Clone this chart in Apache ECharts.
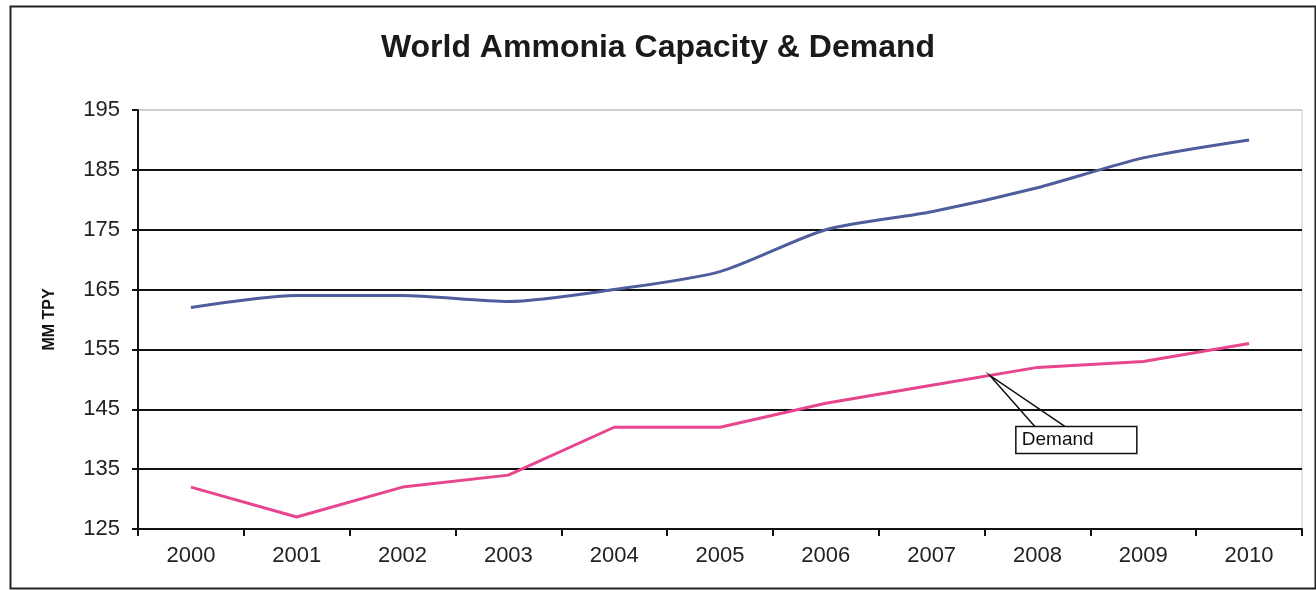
<!DOCTYPE html>
<html>
<head>
<meta charset="utf-8">
<script src="https://cdn.jsdelivr.net/npm/echarts@6/dist/echarts.min.js"></script>
<style>
  html, body { margin: 0; padding: 0; background: #fff; }
  #chart { width: 1316px; height: 590px; }
</style>
</head>
<body>
<div id="chart"></div>
<script>
// values
var years = ['2000', '2001', '2002', '2003', '2004', '2005', '2006', '2007', '2008', '2009', '2010'];
var capacity = [162, 164, 164, 163, 165, 168, 175, 178, 182, 187, 190];
var demand = [132, 127, 132, 134, 142, 142, 146, 149, 152, 153, 156];
var yTicks = [125, 135, 145, 155, 165, 175, 185, 195];

var chartDom = document.getElementById('chart');
var myChart = echarts.init(chartDom, null, { width: 1316, height: 590 });
var option;

var font = 'Liberation Sans, Arial, sans-serif';

option = {
  backgroundColor: '#fff',
  animation: false,
  title: {
    text: 'World Ammonia Capacity & Demand',
    left: 'center',
    top: 27,
    textStyle: {
      fontFamily: font,
      fontSize: 32,
      fontWeight: 'bold',
      color: '#1a1a1a'
    }
  },
  grid: {
    left: 138,
    right: 14,
    top: 110,
    bottom: 61,
    show: true,
    borderColor: '#c8c8c8',
    borderWidth: 1
  },
  xAxis: {
    type: 'category',
    data: years,
    boundaryGap: true,
    axisLine: { lineStyle: { color: '#111', width: 2 } },
    axisTick: { show: true, length: 7, lineStyle: { color: '#111', width: 2 } },
    axisLabel: {
      margin: 16,
      fontFamily: font,
      fontSize: 22,
      color: '#222'
    },
    splitLine: { show: false }
  },
  yAxis: {
    type: 'value',
    min: 125,
    max: 195,
    name: 'MM TPY',
    nameLocation: 'middle',
    nameGap: 80,
    nameTextStyle: {
      fontFamily: font,
      fontSize: 16,
      fontWeight: 'bold',
      color: '#111'
    },
    axisLine: { show: true, lineStyle: { color: '#111', width: 2 } },
    axisTick: { show: true, length: 6, customValues: yTicks, lineStyle: { color: '#111', width: 2 } },
    axisLabel: {
      customValues: yTicks,
      margin: 18,
      fontFamily: font,
      fontSize: 22,
      color: '#222'
    },
    splitLine: {
      show: true,
      lineStyle: {
        color: ['#111', '#111', '#111', '#111', '#111', '#111', '#111', '#cfcfcf'],
        width: 2
      }
    }
  },
  series: [
    {
      name: 'Capacity',
      type: 'line',
      data: capacity,
      smooth: 0.25,
      symbol: 'none',
      lineStyle: { color: '#4f5d9c', width: 3 },
      itemStyle: { color: '#4f5d9c' }
    },
    {
      name: 'Demand',
      type: 'line',
      data: demand,
      symbol: 'none',
      lineStyle: { color: '#e8458f', width: 3 },
      itemStyle: { color: '#e8458f' }
    }
  ]
};

option && myChart.setOption(option);

// callout for Demand, anchored on the line between 2007 and 2008
var p7 = myChart.convertToPixel({ xAxisIndex: 0, yAxisIndex: 0 }, [7, demand[7]]);
var p8 = myChart.convertToPixel({ xAxisIndex: 0, yAxisIndex: 0 }, [8, demand[8]]);
var t = 0.55;
var tip = [p7[0] + (p8[0] - p7[0]) * t, p7[1] + (p8[1] - p7[1]) * t];
var boxX = tip[0] + 26, boxY = tip[1] + 51;

myChart.setOption({
  graphic: [
    {
      type: 'rect',
      left: 8, top: 4,
      shape: { width: 1305, height: 582 },
      style: { fill: 'none', stroke: '#222', lineWidth: 2 },
      silent: true
    },
    {
      type: 'polyline',
      shape: { points: [[boxX + 19, boxY], tip, [boxX + 49, boxY]] },
      style: { stroke: '#111', lineWidth: 1.5, fill: 'none' },
      z: 10
    },
    {
      type: 'rect',
      shape: { x: boxX, y: boxY, width: 121, height: 27 },
      style: { fill: '#fff', stroke: '#111', lineWidth: 1.5 },
      z: 10
    },
    {
      type: 'text',
      x: boxX + 6,
      y: boxY + 4,
      style: { text: 'Demand', font: '19px Liberation Sans, Arial, sans-serif', fill: '#111' },
      z: 11
    }
  ]
});
</script>
</body>
</html>
